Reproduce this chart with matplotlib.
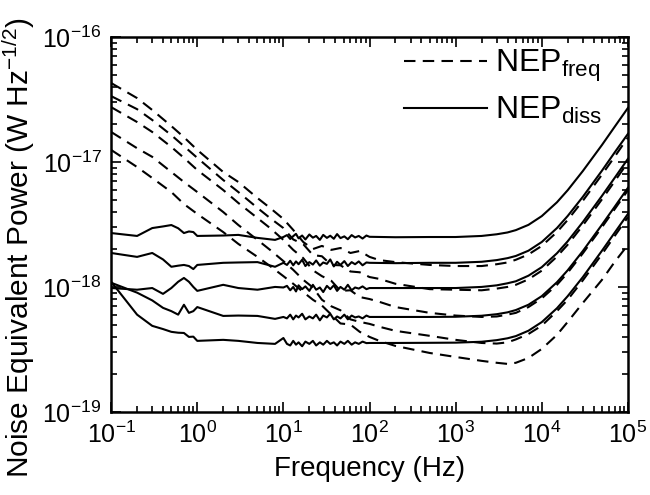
import matplotlib
matplotlib.use('Agg')
import matplotlib.pyplot as plt
import numpy as np

matplotlib.rcParams['font.family'] = ['Liberation Sans', 'DejaVu Sans']
matplotlib.rcParams['mathtext.fontset'] = 'custom'
matplotlib.rcParams['mathtext.rm'] = 'Liberation Sans'
matplotlib.rcParams['mathtext.it'] = 'Liberation Sans:italic'
matplotlib.rcParams['mathtext.bf'] = 'Liberation Sans:bold'

UNIT = 1e-18  # values below are in 1e-18 W Hz^-1/2

# dissipation NEP (solid)
FREQ_SOLID = [0.1, 0.2, 0.3, 0.4, 0.5, 0.6, 0.7, 0.8, 0.9, 1.0, 2, 3, 5, 8, 10,
              11, 12, 13, 14, 15, 16.5, 18, 20, 22, 24, 26.5, 29, 32, 35, 38.5,
              42, 46, 51, 56, 62, 68, 75, 83, 92,
              100, 200, 500, 1e3, 2e3, 3e3, 4e3, 5e3, 7e3, 1e4, 1.5e4, 2e4, 3e4,
              5e4, 7e4, 1e5]

S1 = [2.70, 2.56, 2.96, 3.05, 3.13, 2.95, 2.70, 2.78, 2.75, 2.56, 2.58, 2.61, 2.47, 2.38, 2.51,
      2.60, 2.42, 2.55, 2.66, 2.45, 2.58, 2.40, 2.63, 2.48, 2.56, 2.38, 2.61, 2.47, 2.57, 2.43,
      2.65, 2.46, 2.54, 2.41, 2.60, 2.49, 2.56, 2.44, 2.58,
      2.52, 2.50, 2.51, 2.51, 2.56, 2.64, 2.73, 2.85, 3.14, 3.69, 4.76, 5.95, 8.48,
      13.7, 19.1, 27.1]
S2 = [1.87, 1.74, 1.87, 1.66, 1.45, 1.48, 1.50, 1.47, 1.39, 1.50, 1.56, 1.57, 1.58, 1.45, 1.56,
      1.50, 1.62, 1.49, 1.60, 1.52, 1.65, 1.47, 1.58, 1.51, 1.63, 1.48, 1.57, 1.53, 1.66, 1.46,
      1.59, 1.50, 1.61, 1.47, 1.58, 1.52, 1.60, 1.49, 1.57,
      1.56, 1.55, 1.56, 1.56, 1.59, 1.64, 1.70, 1.77, 1.95, 2.29, 2.96, 3.70, 5.27,
      8.53, 11.9, 16.8]
S3 = [0.98, 0.95, 0.98, 0.88, 0.98, 1.10, 1.18, 1.10, 1.00, 0.93, 1.04, 0.98, 0.95, 1.00, 0.99,
      1.02, 0.94, 1.00, 0.92, 1.03, 0.96, 1.01, 0.93, 1.04, 0.95, 0.99, 0.91, 1.02, 0.96, 1.03,
      0.93, 1.00, 0.95, 1.04, 0.94, 0.99, 0.97, 1.01, 0.96,
      0.98, 0.98, 0.98, 0.98, 1.00, 1.03, 1.07, 1.11, 1.23, 1.44, 1.86, 2.32, 3.31,
      5.36, 7.45, 10.6]
S4 = [1.08, 0.90, 0.78, 0.68, 0.64, 0.60, 0.72, 0.62, 0.64, 0.69, 0.586, 0.59, 0.586, 0.555, 0.575,
      0.56, 0.60, 0.55, 0.59, 0.57, 0.61, 0.55, 0.58, 0.56, 0.60, 0.54, 0.59, 0.57, 0.61, 0.55,
      0.58, 0.56, 0.60, 0.55, 0.59, 0.57, 0.58, 0.56, 0.59,
      0.575, 0.575, 0.575, 0.577, 0.588, 0.605, 0.626, 0.653, 0.72, 0.844, 1.09, 1.36, 1.94,
      3.15, 4.37, 6.21]
S5 = [1.10, 0.60, 0.488, 0.46, 0.437, 0.43, 0.428, 0.398, 0.40, 0.37, 0.377, 0.37, 0.356, 0.35, 0.39,
      0.35, 0.34, 0.37, 0.345, 0.36, 0.335, 0.365, 0.35, 0.37, 0.34, 0.36, 0.345, 0.37, 0.35, 0.36,
      0.34, 0.365, 0.35, 0.37, 0.345, 0.36, 0.35, 0.365, 0.355,
      0.356, 0.356, 0.357, 0.358, 0.364, 0.375, 0.388, 0.404, 0.446, 0.523, 0.675, 0.844, 1.20,
      1.95, 2.71, 3.84]

# frequency-noise NEP (dashed)
FREQ_DASHED = [0.1, 0.2, 0.3, 0.5, 0.7, 1, 2, 3, 5, 7, 10, 13, 17, 22, 28, 36, 46, 60, 77,
               100, 130, 200, 500, 1e3, 2e3, 3e3, 4e3, 5e3, 7e3, 1e4, 1.5e4, 2e4, 3e4,
               5e4, 7e4, 1e5]

D1 = [42.9, 32.5, 26.1, 19.4, 15.8, 12.5, 8.32, 6.92, 5.15, 4.29, 3.50, 2.86, 2.29, 2.01, 2.13,
      1.98, 2.05, 1.87, 1.94, 1.74, 1.64, 1.58, 1.50, 1.47, 1.47, 1.52, 1.57, 1.65, 1.82, 2.13,
      2.75, 3.44, 4.90, 7.93, 11.0, 15.7]
D2 = [33.7, 26.5, 21.7, 16.4, 13.4, 10.8, 7.18, 5.75, 4.29, 3.56, 2.96, 2.40, 2.20, 1.80, 1.76,
      1.50, 1.49, 1.33, 1.31, 1.20, 1.16, 1.06, 0.96, 0.95, 0.94, 0.97, 1.00, 1.04, 1.15, 1.35,
      1.75, 2.18, 3.11, 5.03, 6.99, 9.94]
D3 = [27.5, 20.9, 17.4, 13.2, 10.8, 8.63, 5.97, 4.70, 3.56, 2.96, 2.38, 1.98, 1.70, 1.36, 1.22,
      1.12, 0.93, 0.94, 0.83, 0.80, 0.76, 0.69, 0.62, 0.59, 0.575, 0.58, 0.60, 0.62, 0.69, 0.81,
      1.04, 1.30, 1.86, 3.01, 4.18, 5.94]
D4 = [17.4, 12.9, 11.0, 8.32, 6.92, 5.75, 3.98, 3.13, 2.38, 1.98, 1.61, 1.37, 1.14, 0.99, 0.79,
      0.70, 0.65, 0.55, 0.525, 0.506, 0.48, 0.445, 0.406, 0.377, 0.356, 0.352, 0.36, 0.38, 0.42,
      0.49, 0.64, 0.79, 1.13, 1.83, 2.55, 3.62]
D5 = [12.5, 9.12, 7.45, 5.75, 4.61, 3.84, 2.75, 2.21, 1.74, 1.47, 1.22, 1.06, 0.91, 0.79, 0.71,
      0.60, 0.51, 0.50, 0.437, 0.398, 0.37, 0.337, 0.296, 0.275, 0.256, 0.247, 0.242, 0.247, 0.27,
      0.319, 0.413, 0.525, 0.745, 1.14, 1.58, 2.17]

SOLID = [S1, S2, S3, S4, S5]
DASHED = [D1, D2, D3, D4, D5]


def plot_nep(savename):
    fig = plt.figure(figsize=(6.5, 4.95), dpi=100)
    ax = fig.add_axes([0.171, 0.168, 0.795, 0.757])

    for i, vals in enumerate(DASHED):
        ax.loglog(FREQ_DASHED, np.array(vals) * UNIT, color='k', lw=1.5,
                  dashes=(5.5, 3.5), label=r'NEP$_{\mathrm{freq}}$' if i == 0 else None)
    for i, vals in enumerate(SOLID):
        ax.loglog(FREQ_SOLID, np.array(vals) * UNIT, color='k', lw=1.5,
                  label=r'NEP$_{\mathrm{diss}}$' if i == 0 else None)

    ax.set_xlim(1e-1, 1e5)
    ax.set_ylim(1e-19, 1e-16)
    ax.tick_params(which='both', direction='in', top=True, right=True,
                   labelsize=18, width=1.2, pad=7)
    ax.tick_params(which='major', length=7)
    ax.tick_params(which='minor', length=4)
    for s in ax.spines.values():
        s.set_linewidth(1.8)

    ax.set_xlabel('Frequency (Hz)', fontsize=20, labelpad=6)
    ax.set_ylabel(r'Noise Equivalent Power (W Hz$^{-1/2}$)', fontsize=21.5)
    ax.yaxis.set_label_coords(0.057, 0.5, transform=fig.transFigure)

    ax.legend(loc='upper right', bbox_to_anchor=(1.0, 1.04), frameon=False,
              fontsize=23, handlelength=2.6, handletextpad=0.25,
              labelspacing=0.35, borderaxespad=0.4)

    fig.savefig(savename, dpi=100)


if __name__ == '__main__':
    plot_nep('out.png')
